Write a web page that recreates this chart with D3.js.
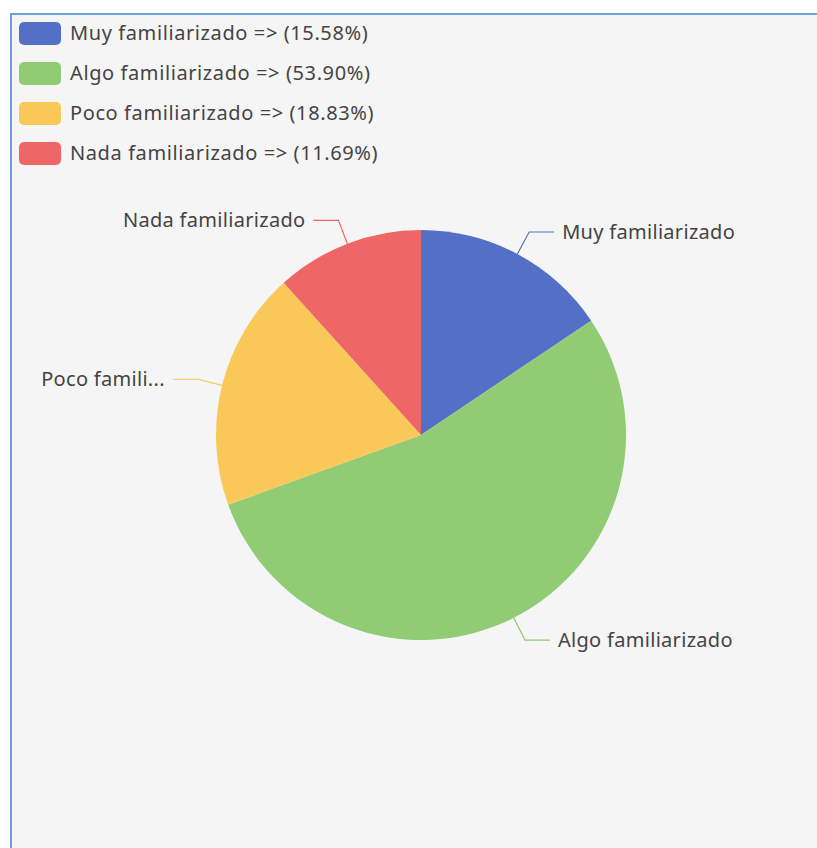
<!DOCTYPE html>
<html>
<head>
<meta charset="utf-8">
<script src="https://cdn.jsdelivr.net/npm/d3@7"></script>
<style>
  html, body { margin: 0; padding: 0; background: #fff; }
  svg { display: block; }
</style>
</head>
<body>
<svg id="chart" width="817" height="848"></svg>
<script>
// answers (counts) per familiarity level
var categories = ['Muy familiarizado', 'Algo familiarizado', 'Poco familiarizado', 'Nada familiarizado'];
var counts = [24, 83, 29, 18];
var colors = ['#5470c6', '#91cc75', '#fac858', '#ee6666'];

var total = d3.sum(counts);
var data = categories.map(function(c, i) {
  return { name: c, value: counts[i], color: colors[i], pct: (counts[i] / total * 100).toFixed(2) };
});

var svg = d3.select('#chart');
var font = '"Noto Sans", "DejaVu Sans", sans-serif';
var fs = 20;

// panel
svg.append('rect')
  .attr('x', 11).attr('y', 14)
  .attr('width', 830).attr('height', 860)
  .attr('fill', '#f5f5f5')
  .attr('stroke', '#69a3dc')
  .attr('stroke-width', 2);

// legend
var legend = svg.append('g').attr('transform', 'translate(19,22)');
var item = legend.selectAll('g')
  .data(data)
  .enter()
  .append('g')
  .attr('transform', function(d, i) { return 'translate(0,' + i * 40 + ')'; });

item.append('rect')
  .attr('width', 42).attr('height', 23)
  .attr('rx', 5).attr('ry', 5)
  .attr('fill', d => d.color);

item.append('text')
  .attr('x', 51).attr('y', 11)
  .attr('dy', '0.35em')
  .attr('font-family', font)
  .attr('font-size', fs)
  .attr('letter-spacing', 0.6)
  .attr('fill', '#444')
  .text(d => d.name + ' => (' + d.pct + '%)');

// pie
var cx = 421, cy = 435, r = 205;
var pie = d3.pie().sort(null).value(d => d.value);
var arc = d3.arc().innerRadius(0).outerRadius(r);
var arcs = pie(data);

var g = svg.append('g').attr('transform', 'translate(' + cx + ',' + cy + ')');

g.selectAll('path.slice')
  .data(arcs)
  .enter()
  .append('path')
  .attr('class', 'slice')
  .attr('d', arc)
  .attr('fill', d => d.data.color);

// labels with leader lines
var len1 = 25, len2 = 25, gap = 8;

function truncate(sel, maxW) {
  var node = sel.node();
  var full = sel.text();
  if (node.getComputedTextLength() <= maxW) return;
  var s = full;
  while (s.length > 1) {
    s = s.slice(0, -1);
    sel.text(s + '...');
    if (node.getComputedTextLength() <= maxW) return;
  }
}

arcs.forEach(function(d) {
  var a = (d.startAngle + d.endAngle) / 2;
  var sx = Math.sin(a), sy = -Math.cos(a);
  var p0 = [sx * r, sy * r];
  var p1 = [sx * (r + len1), sy * (r + len1)];
  var right = sx >= 0;
  var p2 = [p1[0] + (right ? len2 : -len2), p1[1]];

  g.append('polyline')
    .attr('points', [p0, p1, p2].map(p => p.join(',')).join(' '))
    .attr('fill', 'none')
    .attr('stroke', d.data.color)
    .attr('stroke-width', 1.2);

  var tx = p2[0] + (right ? gap : -gap);
  var t = g.append('text')
    .attr('x', tx).attr('y', p2[1])
    .attr('dy', '0.35em')
    .attr('text-anchor', right ? 'start' : 'end')
    .attr('font-family', font)
    .attr('font-size', fs)
    .attr('letter-spacing', 0.3)
    .attr('fill', '#444')
    .text(d.data.name);

  // room left of the label within the panel
  var room = right ? (817 - (cx + tx)) : (cx + tx - 38);
  truncate(t, room);
});
</script>
</body>
</html>
